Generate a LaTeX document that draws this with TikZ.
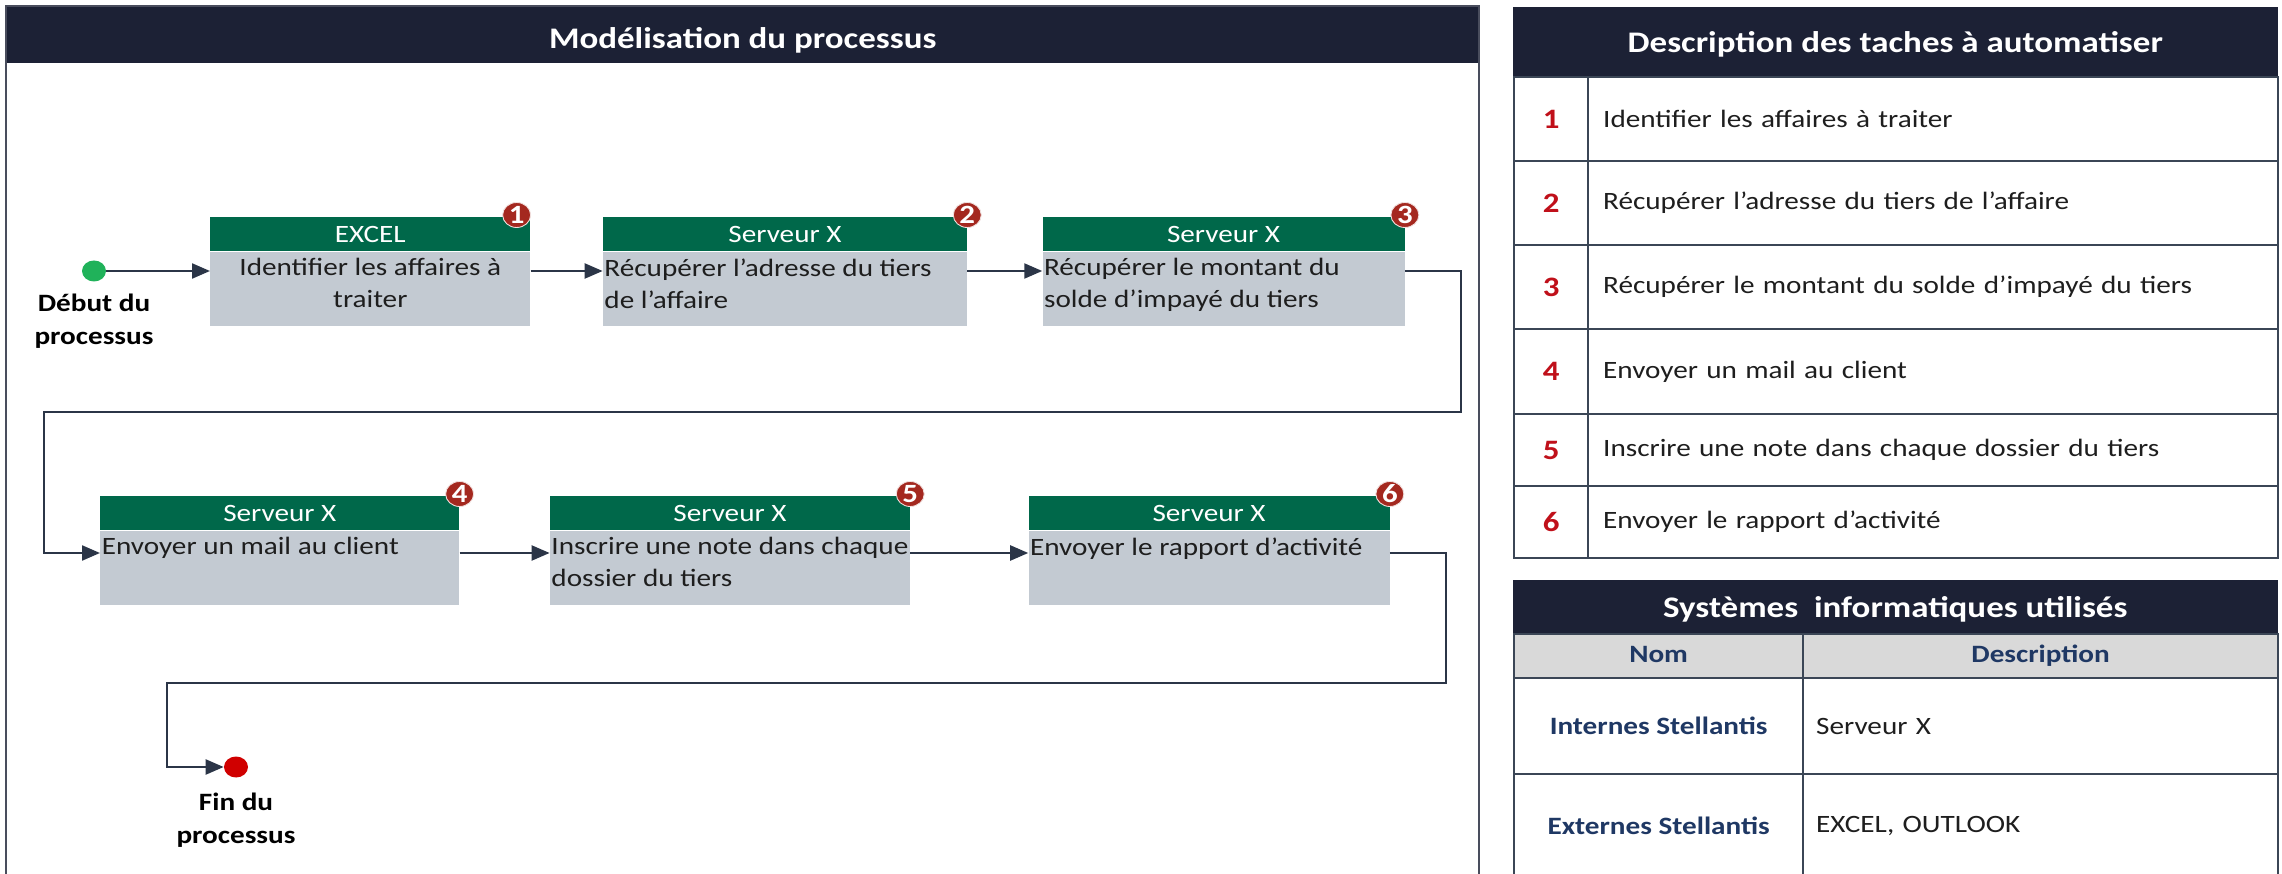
\documentclass[tikz,border=0pt]{standalone}
\usepackage{fontspec}
\setmainfont{Carlito}[FakeStretch=1.17]
\usetikzlibrary{positioning, arrows.meta, shapes.geometric}

\definecolor{marine}{HTML}{1C2135}
\definecolor{vertentete}{HTML}{00684A}
\definecolor{griscorps}{HTML}{C3CAD2}
\definecolor{rougepastille}{HTML}{A4281F}
\definecolor{rougenum}{HTML}{C0101A}
\definecolor{grissoustitre}{HTML}{D9D9D9}
\definecolor{bleutexte}{HTML}{1F3864}
\definecolor{trait}{HTML}{2B3547}
\definecolor{traittableau}{HTML}{3B4656}
\definecolor{vertdebut}{HTML}{20B25A}
\definecolor{rougefin}{HTML}{D00000}
\definecolor{noirtexte}{HTML}{1E1E1E}

\newcommand{\policecorps}{\fontsize{14.2pt}{18.2pt}\selectfont}
\newcommand{\policetitre}{\fontsize{17pt}{20pt}\selectfont\bfseries}
\newcommand{\policenum}{\fontsize{16pt}{16pt}\selectfont\bfseries}
\newcommand{\policepastille}{\fontsize{15pt}{15pt}\selectfont\bfseries}

\tikzset{
  bandeau/.style={fill=marine, draw=marine, text=white, font=\policetitre, text depth=0pt, inner sep=0pt, anchor=north west},
  entete/.style={fill=vertentete, text=white, font=\policecorps, minimum height=0.68cm, inner sep=0pt},
  corps/.style={fill=griscorps, minimum height=1.48cm, inner sep=0pt},
  texte/.style={inner sep=0pt, font=\policecorps, text=noirtexte},
  pastille/.style={ellipse, draw=white!85!rougepastille, line width=0.5pt, fill=rougepastille, text=white, font=\policepastille, minimum width=0.56cm, minimum height=0.5cm, inner sep=-2pt},
  point/.style={ellipse, minimum width=0.48cm, minimum height=0.42cm, inner sep=0pt},
  legende/.style={align=center, inner sep=0pt, font=\fontsize{14.2pt}{18.8pt}\selectfont\bfseries, text=black},
  fleche/.style={draw=trait, line width=1.3pt, -{Triangle[length=0.36cm, width=0.3cm]}},
  cellule/.style={draw=traittableau, line width=1.3pt, inner sep=0pt, anchor=north west},
  numero/.style={cellule, minimum width=1.48cm, text=rougenum, font=\policenum},
  tache/.style={cellule, text width=13.2cm, inner xsep=0.3cm, align=left, font=\policecorps, text=noirtexte},
  soustitre/.style={cellule, fill=grissoustitre, minimum height=0.88cm, text height=0.36cm, text depth=0.1cm, font=\policecorps\bfseries, text=bleutexte},
  nomsys/.style={cellule, minimum width=5.78cm, font=\policecorps\bfseries, text=bleutexte},
  descsys/.style={cellule, text width=8.98cm, inner xsep=0.26cm, align=left, font=\policecorps, text=noirtexte}
}

\begin{document}
\begin{tikzpicture}[x=0.02cm, y=-0.02cm]
  \fill[white] (0,0) rectangle (2282,874);
  \useasboundingbox (0,0) rectangle (2282,874);

  \node[bandeau, minimum width=29.46cm, minimum height=1.12cm, text height=0.58cm] (modele) at (6,6) {Modélisation du processus};
  \draw[draw=marine!80, line width=1pt] (modele.north west) rectangle (1479,900);

  \node[point, fill=vertdebut] (debut) at (94,271) {};
  \node[legende, below=0.24cm of debut] (debut-txt) {Début du\\processus};

  \node[entete, minimum width=6.4cm, anchor=north west] (h1) at (210,217) {EXCEL};
  \node[entete, minimum width=7.28cm, right=1.44cm of h1] (h2) {Serveur X};
  \node[entete, minimum width=7.24cm, right=1.5cm of h2] (h3) {Serveur X};
  \node[corps, minimum width=6.4cm, below=0pt of h1] (b1) {};
  \node[corps, minimum width=7.28cm, below=0pt of h2] (b2) {};
  \node[corps, minimum width=7.24cm, below=0pt of h3] (b3) {};
  \node[texte, align=center, anchor=north] (t1) at ([yshift=-0.13cm]b1.north) {Identifier les affaires à\\traiter};
  \node[texte, align=left, anchor=north west] (t2) at ([xshift=0.03cm, yshift=-0.13cm]b2.north west) {Récupérer l’adresse du tiers\\de l’affaire};
  \node[texte, align=left, anchor=north west] (t3) at ([xshift=0.03cm, yshift=-0.13cm]b3.north west) {Récupérer le montant du\\solde d’impayé du tiers};

  \node[entete, minimum width=7.18cm, anchor=north west] (h4) at (100,496) {Serveur X};
  \node[entete, minimum width=7.2cm, right=1.8cm of h4] (h5) {Serveur X};
  \node[entete, minimum width=7.22cm, right=2.36cm of h5] (h6) {Serveur X};
  \node[corps, minimum width=7.18cm, below=0pt of h4] (b4) {};
  \node[corps, minimum width=7.2cm, below=0pt of h5] (b5) {};
  \node[corps, minimum width=7.22cm, below=0pt of h6] (b6) {};
  \node[texte, align=left, anchor=north west] (t4) at ([xshift=0.03cm, yshift=-0.13cm]b4.north west) {Envoyer un mail au client};
  \node[texte, align=left, anchor=north west] (t5) at ([xshift=0.03cm, yshift=-0.13cm]b5.north west) {Inscrire une note dans chaque\\dossier du tiers};
  \node[texte, align=left, anchor=north west] (t6) at ([xshift=0.03cm, yshift=-0.13cm]b6.north west) {Envoyer le rapport d’activité};

  \node[pastille] (p1) at ([xshift=-0.28cm, yshift=0.04cm]h1.north east) {1};
  \node[pastille] (p2) at ([yshift=0.04cm]h2.north east) {2};
  \node[pastille] (p3) at ([yshift=0.04cm]h3.north east) {3};
  \node[pastille] (p4) at ([yshift=0.04cm]h4.north east) {4};
  \node[pastille] (p5) at ([yshift=0.04cm]h5.north east) {5};
  \node[pastille] (p6) at ([yshift=0.04cm]h6.north east) {6};

  \node[point, fill=rougefin] (fin) at (236,767) {};
  \node[legende, below=0.3cm of fin] (fin-txt) {Fin du\\processus};

  \coordinate (rang2) at (0,553);
  \coordinate (virage1) at (1461,412);
  \coordinate (virage2) at (44,412);
  \coordinate (virage3) at (1446,683);
  \coordinate (virage4) at (167,683);

  \draw[fleche] (debut) -- (debut -| b1.west);
  \draw[fleche] (debut -| b1.east) -- (debut -| b2.west);
  \draw[fleche] (debut -| b2.east) -- (debut -| b3.west);
  \draw[fleche] (debut -| b3.east) -| (virage1) -- (virage2) |- (rang2 -| b4.west);
  \draw[fleche] (rang2 -| b4.east) -- (rang2 -| b5.west);
  \draw[fleche] (rang2 -| b5.east) -- (rang2 -| b6.west);
  \draw[fleche] (rang2 -| b6.east) -| (virage3) -- (virage4) |- (fin);

  \node[bandeau, minimum width=15.28cm, minimum height=1.38cm] (taches) at (1513,7) {Description des taches à automatiser};
  \foreach \n/\y/\h/\txt in {1/76/84/{Identifier les affaires à traiter},
      2/160/84/{Récupérer l’adresse du tiers de l’affaire},
      3/244/84/{Récupérer le montant du solde d’impayé du tiers},
      4/328/85/{Envoyer un mail au client},
      5/413/72/{Inscrire une note dans chaque dossier du tiers},
      6/485/72/{Envoyer le rapport d’activité}}{
    \node[numero, minimum height=\h*0.02cm] (num\n) at (1513,\y) {\n};
    \node[tache, minimum height=\h*0.02cm] (tache\n) at (1587,\y) {\txt};
  }

  \node[bandeau, minimum width=15.28cm, minimum height=1.06cm] (systemes) at (1513,580) {Systèmes~~informatiques utilisés};
  \node[soustitre, minimum width=5.78cm] (nom) at (1513,633) {Nom};
  \node[soustitre, minimum width=9.5cm] (description) at (1802,633) {Description};
  \node[nomsys, minimum height=1.92cm] (internes) at (1513,677) {Internes Stellantis};
  \node[descsys, minimum height=1.92cm] (serveur) at (1802,677) {Serveur X};
  \node[nomsys, minimum height=2.08cm] (externes) at (1513,773) {Externes Stellantis};
  \node[descsys, minimum height=2.08cm] (outils) at (1802,773) {EXCEL, OUTLOOK};
\end{tikzpicture}
\end{document}
